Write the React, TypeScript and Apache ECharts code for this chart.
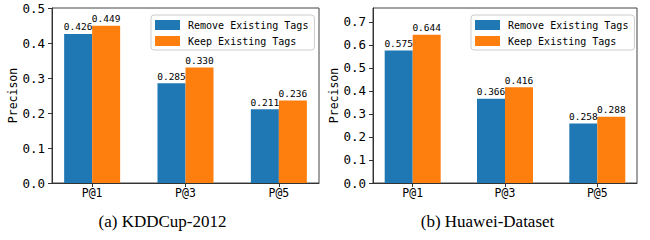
import React, { useEffect, useRef } from "react";
import * as echarts from "echarts";

const categories = ["P@1", "P@3", "P@5"];
const seriesNames = ["Remove Existing Tags", "Keep Existing Tags"];
const kddRemove = [0.426, 0.285, 0.211];
const kddKeep = [0.449, 0.33, 0.236];
const hwRemove = [0.575, 0.366, 0.258];
const hwKeep = [0.644, 0.416, 0.288];
const kddYMax = 0.5;
const hwYMax = 0.76;
const captions = ["(a) KDDCup-2012", "(b) Huawei-Dataset"];
const yName = "Precison";

const MONO = "DejaVu Sans Mono";
const BLUE = "#1f77b4";
const ORANGE = "#ff7f0e";

function toPairs(vals: number[]) {
  return categories.map((_, i) => [i, vals[i]]);
}

export default function App() {
  const ref = useRef<HTMLDivElement>(null);
  useEffect(() => {
    if (!ref.current) return;
    const chart = echarts.init(ref.current, null, { renderer: "svg" });
    const grids = [
      { left: 52, top: 8, width: 267, height: 175 },
      { left: 373, top: 8, width: 264, height: 175 },
    ];
    const xAxis = grids.map((_, gi) => ({
      type: "value",
      gridIndex: gi,
      min: -0.43,
      max: 2.43,
      splitLine: { show: false },
      axisLine: { show: true, onZero: false, lineStyle: { color: "#333", width: 1 } },
      axisTick: { show: true, customValues: [0, 1, 2], length: 4, lineStyle: { color: "#333" } },
      axisLabel: {
        customValues: [0, 1, 2],
        formatter: (v: number) => categories[Math.round(v)] ?? "",
        fontFamily: MONO,
        fontSize: 11.5,
        color: "#000",
        margin: 4,
      },
    }));
    const yAxis = [kddYMax, hwYMax].map((mx, gi) => ({
      type: "value",
      gridIndex: gi,
      min: 0,
      max: mx,
      interval: 0.1,
      name: yName,
      nameLocation: "middle",
      nameGap: 33,
      nameTextStyle: { fontFamily: MONO, fontSize: 11.5, color: "#000" },
      splitLine: { show: false },
      axisLine: { show: true, onZero: false, lineStyle: { color: "#333", width: 1 } },
      axisTick: { show: true, length: 4, lineStyle: { color: "#333" } },
      axisLabel: {
        formatter: (v: number) => v.toFixed(1),
        fontFamily: MONO,
        fontSize: 12.5,
        color: "#000",
        margin: 7,
        showMaxLabel: gi === 0,
      },
    }));
    const label = {
      show: true,
      position: "top",
      distance: 2,
      fontFamily: MONO,
      fontSize: 9.5,
      color: "#000",
      formatter: (p: any) => Number(p.value[1]).toFixed(3),
    };
    const mk = (name: string, vals: number[], gi: number, color: string) => ({
      type: "bar",
      name,
      xAxisIndex: gi,
      yAxisIndex: gi,
      data: toPairs(vals),
      barWidth: 28,
      barGap: "0%",
      itemStyle: { color },
      label,
    });
    const legend = [151, 471].map((left) => ({
      left,
      top: 15,
      orient: "vertical",
      data: seriesNames,
      icon: "rect",
      itemWidth: 25,
      itemHeight: 10,
      itemGap: 6,
      padding: [5, 6, 4, 4],
      borderColor: "#ccc",
      borderWidth: 1,
      borderRadius: 3,
      backgroundColor: "rgba(255,255,255,0.8)",
      selectedMode: false,
      textStyle: { fontFamily: MONO, fontSize: 10, color: "#000", padding: [0, 0, 0, 3] },
    }));
    chart.setOption({
      animation: false,
      grid: grids.map((g) => ({
        ...g,
        show: true,
        borderColor: "#444",
        borderWidth: 1,
        backgroundColor: "transparent",
        containLabel: false,
      })),
      xAxis,
      yAxis,
      legend,
      series: [
        mk(seriesNames[0], kddRemove, 0, BLUE),
        mk(seriesNames[1], kddKeep, 0, ORANGE),
        mk(seriesNames[0], hwRemove, 1, BLUE),
        mk(seriesNames[1], hwKeep, 1, ORANGE),
      ],
      graphic: [162.5, 487.5].map((x, i) => ({
        type: "text",
        x,
        y: 221,
        style: {
          text: captions[i],
          fontFamily: "Liberation Serif",
          fontSize: 17,
          fill: "#000",
          textAlign: "center",
          textVerticalAlign: "middle",
        },
      })),
    });
    return () => chart.dispose();
  }, []);
  return (
    <div
      ref={ref}
      style={{ position: "fixed", left: 0, top: 0, width: 650, height: 240, background: "#fff" }}
    />
  );
}
